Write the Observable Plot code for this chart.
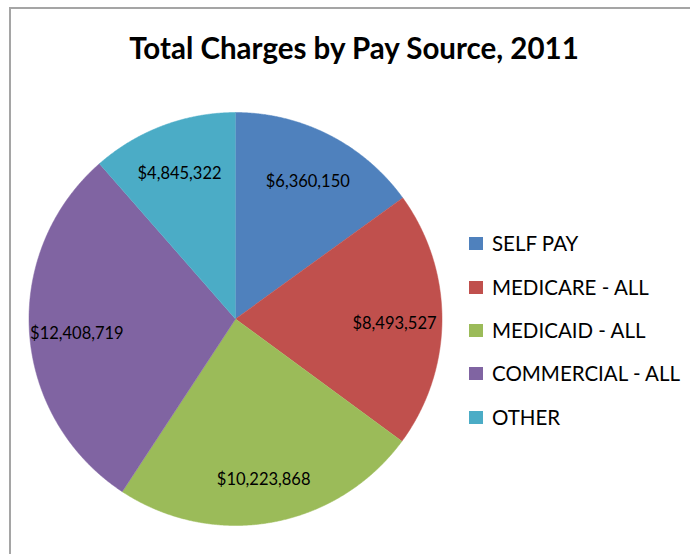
<!DOCTYPE html>
<html>
<head>
<meta charset="utf-8">
<script src="https://cdn.jsdelivr.net/npm/d3@7"></script>
<script src="https://cdn.jsdelivr.net/npm/@observablehq/plot@0.6"></script>
<style>
  body { margin: 0; background: #fff; }
  #wrap { position: relative; width: 690px; height: 554px; overflow: hidden; font-family: Lato, "Open Sans", sans-serif; color: #000; }
  #frame { position: absolute; left: 9px; top: 7px; width: 720px; height: 600px; border-left: 2px solid #a5a5a5; border-top: 2px solid #a5a5a5; }
  #chart { position: absolute; left: 0; top: 0; }
  #title { position: absolute; left: 0; width: 708px; top: 30px; text-align: center; font-weight: bold; font-size: 29.5px; line-height: 36px; white-space: nowrap; }
  #legend { position: absolute; left: 469px; top: 0; }
  .item { position: absolute; left: 0; display: flex; align-items: center; white-space: nowrap; font-size: 20.5px; }
  .sw { width: 14px; height: 13px; margin-right: 9px; flex: none; }
</style>
</head>
<body>
<div id="wrap">
  <div id="frame"></div>
  <div id="chart"></div>
  <div id="title"></div>
  <div id="legend"></div>
</div>
<script>
const titleText = "Total Charges by Pay Source, 2011";
const categories = ["SELF PAY", "MEDICARE - ALL", "MEDICAID - ALL", "COMMERCIAL - ALL", "OTHER"];
const values = [6360150, 8493527, 10223868, 12408719, 4845322];
const colors = ["#4F81BD", "#C0504D", "#9BBB59", "#8064A2", "#4BACC6"];

const fmt = d3.format(",");
const arcs = d3.pie().sort(null).value(d => d)(values);

// polygon outline of each slice in unit-circle coordinates (y up)
const wedgeRows = [];
arcs.forEach((a, i) => {
  const cat = categories[i];
  wedgeRows.push({cat, x: 0, y: 0});
  const n = Math.max(2, Math.ceil((a.endAngle - a.startAngle) / (Math.PI / 720)));
  for (let k = 0; k <= n; k++) {
    const t = a.startAngle + (a.endAngle - a.startAngle) * k / n;
    wedgeRows.push({cat, x: Math.sin(t), y: Math.cos(t)});
  }
});

const labelRows = arcs.map((a, i) => {
  const m = (a.startAngle + a.endAngle) / 2;
  const r = 0.77;
  return {cat: categories[i], x: r * Math.sin(m), y: r * Math.cos(m), label: "$" + fmt(values[i])};
});

const chart = Plot.plot({
  width: 690,
  height: 554,
  marginLeft: 28.5,
  marginRight: 248.5,
  marginTop: 112,
  marginBottom: 29,
  style: {background: "transparent", overflow: "visible"},
  x: {domain: [-1, 1], axis: null},
  y: {domain: [-1, 1], axis: null},
  color: {domain: categories, range: colors},
  marks: [
    Plot.line(wedgeRows, {x: "x", y: "y", z: "cat", fill: "cat", stroke: "cat", strokeWidth: 0.5, curve: "linear"}),
    Plot.text(labelRows, {x: "x", y: "y", dy: 4, text: "label", fontSize: 16.5, fontFamily: "Lato, sans-serif", fill: "#000"})
  ]
});
document.getElementById("chart").appendChild(chart);

document.getElementById("title").textContent = titleText;

const legend = document.getElementById("legend");
const legendY = [243, 287, 330, 373, 417];
categories.forEach((c, i) => {
  const row = document.createElement("div");
  row.className = "item";
  row.style.top = (legendY[i] - 12) + "px";
  row.style.height = "24px";
  const sw = document.createElement("div");
  sw.className = "sw";
  sw.style.background = colors[i];
  const tx = document.createElement("span");
  tx.textContent = c;
  row.appendChild(sw);
  row.appendChild(tx);
  legend.appendChild(row);
});
</script>
</body>
</html>
